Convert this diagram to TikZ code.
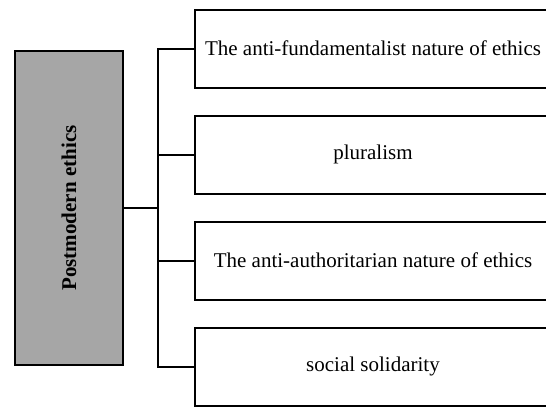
\documentclass[tikz,border=0pt]{standalone}
\usepackage{fontspec}
\setmainfont{Liberation Serif}
\usetikzlibrary{positioning}
\definecolor{coregray}{RGB}{166,166,166}
\tikzset{
  corebox/.style={draw,line width=2pt,fill=coregray,minimum width=108pt,minimum height=314pt,inner sep=0pt},
  itembox/.style={draw,line width=2pt,fill=white,minimum width=356pt,minimum height=78pt,inner sep=0pt,
    font=\fontsize{21}{25}\selectfont},
  link/.style={line width=2pt}
}
\begin{document}
\begin{tikzpicture}[x=1pt,y=-1pt]
  \useasboundingbox (0,0) rectangle (546,407);
  \node[corebox] (core) at (69,208) {};
  \node[rotate=90,font=\fontsize{21}{25}\selectfont\bfseries] (coretext) at (core.center) {Postmodern ethics};
  \node[itembox] (b1) at (373,48.5) {The anti-fundamentalist nature of ethics};
  \node[itembox,below=26pt of b1] (b2) {pluralism};
  \node[itembox,below=26pt of b2] (b3) {The anti-authoritarian nature of ethics};
  \node[itembox,below=26pt of b3] (b4) {social solidarity};
  \coordinate (spine) at (158,0);
  \draw[link] (core.east) -- (core.east -| spine);
  \draw[link] (b1.west) -- (b1.west -| spine) -- (b4.west -| spine) -- (b4.west);
  \draw[link] (b2.west) -- (b2.west -| spine);
  \draw[link] (b3.west) -- (b3.west -| spine);
\end{tikzpicture}
\end{document}
